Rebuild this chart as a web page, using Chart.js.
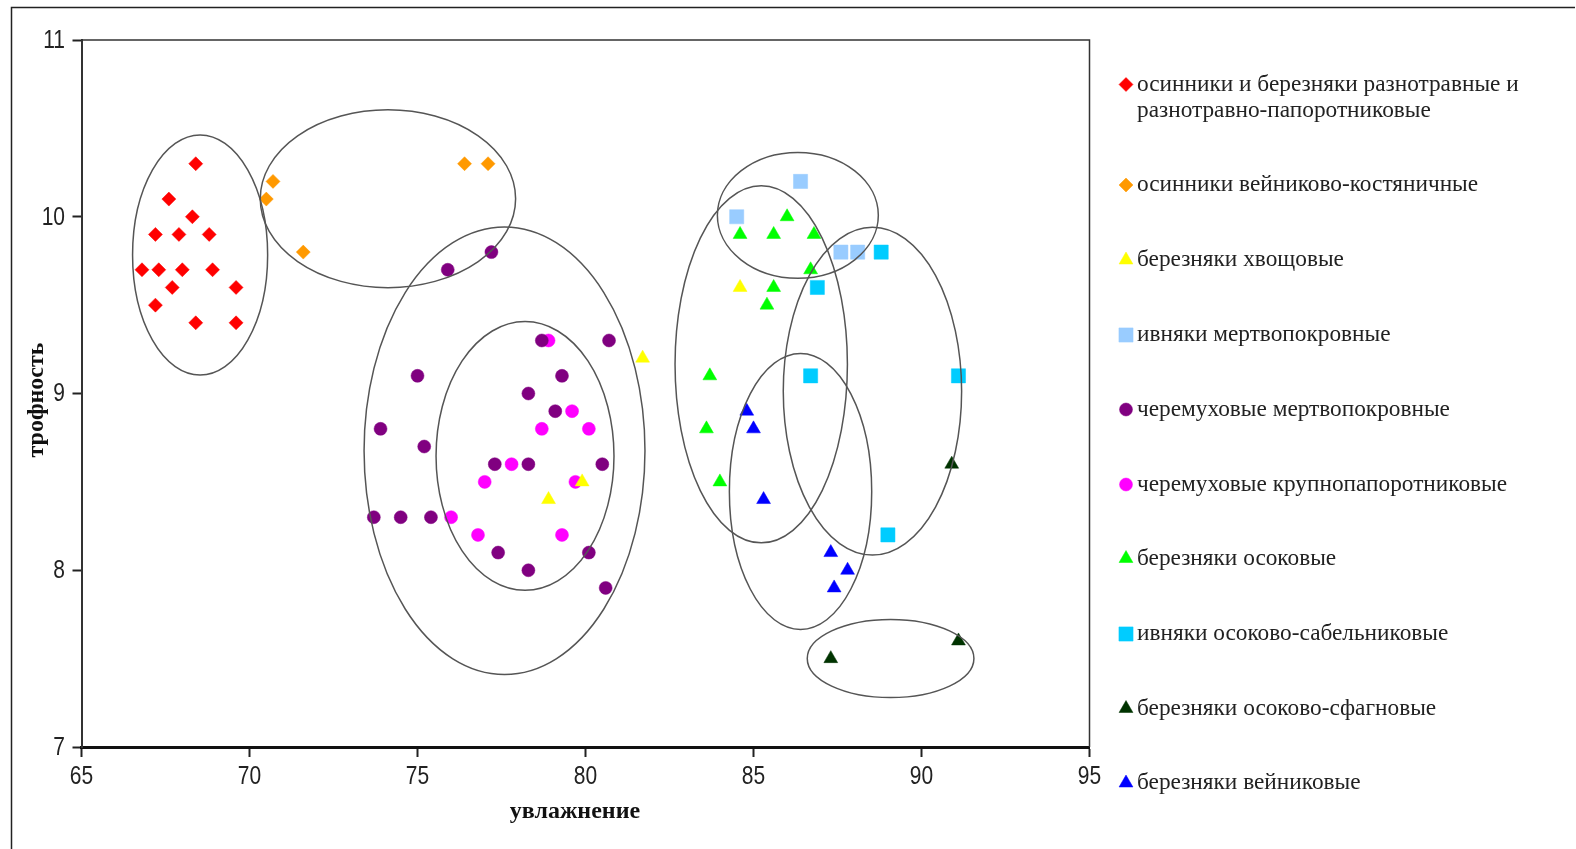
<!DOCTYPE html>
<html><head><meta charset="utf-8">
<script src="https://cdn.jsdelivr.net/npm/chart.js@4/dist/chart.umd.min.js"></script>
<style>html,body{margin:0;padding:0;background:#fff;overflow:hidden}</style>
</head><body>
<canvas id="c" width="1576" height="849" style="display:block;width:1576px;height:849px"></canvas>
<script>
// ---- data ----
const seriesNames = [
  ['осинники и березняки разнотравные и', 'разнотравно-папоротниковые'],
  ['осинники вейниково-костяничные'],
  ['березняки хвощовые'],
  ['ивняки мертвопокровные'],
  ['черемуховые мертвопокровные'],
  ['черемуховые крупнопапоротниковые'],
  ['березняки осоковые'],
  ['ивняки осоково-сабельниковые'],
  ['березняки осоково-сфагновые'],
  ['березняки вейниковые']
];
const seriesColors = ['#ff0000','#ff9900','#ffff00','#99ccff','#800080','#ff00ff','#00ff00','#00ccff','#003300','#0000ff'];
const seriesStyles = ['rectRot','rectRot','triangle','rect','circle','circle','triangle','rect','triangle','triangle'];

const s1X = [68.4,67.6,68.3,67.2,67.9,68.8,66.8,67.3,68.0,68.9,67.7,69.6,67.2,68.4,69.6];
const s1Y = [10.3,10.1,10.0,9.9,9.9,9.9,9.7,9.7,9.7,9.7,9.6,9.6,9.5,9.4,9.4];
const s2X = [70.7,70.5,71.6,76.4,77.1];
const s2Y = [10.2,10.1,9.8,10.3,10.3];
const s3X = [81.7,78.9,79.9,84.6];
const s3Y = [9.2,8.4,8.5,9.6];
const s4X = [86.4,84.5,87.6,88.1];
const s4Y = [10.2,10.0,9.8,9.8];
const s5X = [75.9,77.2,78.7,80.7,75.0,79.3,78.3,79.1,73.9,75.2,77.3,78.3,80.5,73.7,74.5,75.4,77.4,80.1,78.3,80.6];
const s5Y = [9.7,9.8,9.3,9.3,9.1,9.1,9.0,8.9,8.8,8.7,8.6,8.6,8.6,8.3,8.3,8.3,8.1,8.1,8.0,7.9];
const s6X = [78.9,79.6,78.7,80.1,77.8,77.0,79.7,76.0,76.8,79.3];
const s6Y = [9.3,8.9,8.8,8.8,8.6,8.5,8.5,8.3,8.2,8.2];
const s7X = [86.0,84.6,85.6,86.8,86.7,85.6,85.4,83.7,83.6,84.0];
const s7Y = [10.0,9.9,9.9,9.9,9.7,9.6,9.5,9.1,8.8,8.5];
const s8X = [88.8,86.9,86.7,91.1,89.0];
const s8Y = [9.8,9.6,9.1,9.1,8.2];
const s9X = [90.9,87.3,91.1];
const s9Y = [8.6,7.5,7.6];
const s10X = [84.8,85.0,85.3,87.3,87.8,87.4];
const s10Y = [8.9,8.8,8.4,8.1,8.0,7.9];

// group ellipses (data units): centre x, centre y, half-width, half-height
const ellCX = [68.53, 74.12, 77.59, 78.20, 86.32, 85.23, 88.54, 86.40, 89.08];
const ellCY = [9.784, 10.102, 8.676, 8.647, 10.008, 9.165, 9.013, 8.446, 7.501];
const ellRX = [2.01, 3.80, 4.18, 2.648, 2.395, 2.565, 2.654, 2.118, 2.48];
const ellRY = [0.679, 0.503, 1.266, 0.76, 0.356, 1.01, 0.927, 0.781, 0.221];

const xTicks = [65,70,75,80,85,90,95];
const yTicks = [7,8,9,10,11];
const xTitle = 'увлажнение';
const yTitle = 'трофность';

// ---- build ----
const allX = [s1X,s2X,s3X,s4X,s5X,s6X,s7X,s8X,s9X,s10X];
const allY = [s1Y,s2Y,s3Y,s4Y,s5Y,s6Y,s7Y,s8Y,s9Y,s10Y];
const radiusFor = {rectRot:7, triangle:8, rect:10, circle:6.5};

const datasets = allX.map((xs,i)=>({
  label: seriesNames[i].join(' '),
  data: xs.map((x,j)=>({x:x, y:allY[i][j]})),
  pointStyle: seriesStyles[i],
  pointRadius: radiusFor[seriesStyles[i]],
  pointHoverRadius: radiusFor[seriesStyles[i]],
  backgroundColor: seriesColors[i],
  borderColor: seriesColors[i],
  pointBorderWidth: 0.5,
  showLine: false
}));

const AXIS_COLOR = '#222';
const TICK_FONT_CSS = '25px "Liberation Sans", Arial, sans-serif';
const TICK_SQUEEZE = 0.84;

function drawMarker(ctx, style, x, y, color){
  const r = radiusFor[style];
  ctx.save();
  ctx.fillStyle = color; ctx.strokeStyle = color; ctx.lineWidth = 0.5;
  ctx.beginPath();
  if(style==='circle'){ ctx.arc(x,y,r,0,Math.PI*2); }
  else if(style==='rect'){ const h=r*Math.SQRT1_2; ctx.rect(x-h,y-h,2*h,2*h); }
  else if(style==='rectRot'){ ctx.moveTo(x,y-r); ctx.lineTo(x+r,y); ctx.lineTo(x,y+r); ctx.lineTo(x-r,y); ctx.closePath(); }
  else if(style==='triangle'){ const w=r*Math.sin(2*Math.PI/3); ctx.moveTo(x,y-r); ctx.lineTo(x+w,y+r/2); ctx.lineTo(x-w,y+r/2); ctx.closePath(); }
  ctx.fill(); ctx.stroke();
  ctx.restore();
}

function squeezedText(ctx, text, x, y, align){
  ctx.save();
  ctx.translate(x, y);
  ctx.scale(TICK_SQUEEZE, 1);
  ctx.textAlign = align;
  ctx.fillText(text, 0, 0);
  ctx.restore();
}

const decorPlugin = {
  id:'decor',
  beforeDraw(chart){
    const ctx = chart.ctx;
    ctx.save();
    ctx.fillStyle = '#fff'; ctx.fillRect(0,0,chart.width,chart.height);
    ctx.strokeStyle = '#222'; ctx.lineWidth = 1.5;
    ctx.beginPath();
    ctx.moveTo(11.5, 860); ctx.lineTo(11.5, 7.5); ctx.lineTo(1575, 7.5);
    ctx.stroke();
    ctx.restore();
  },
  beforeDatasetsDraw(chart){
    const ctx = chart.ctx, a = chart.chartArea;
    ctx.save();
    ctx.strokeStyle = '#333'; ctx.lineWidth = 1.5;
    ctx.beginPath();
    ctx.moveTo(a.left, a.top); ctx.lineTo(a.right, a.top); ctx.lineTo(a.right, a.bottom);
    ctx.stroke();
    ctx.restore();
  },
  afterDatasetsDraw(chart){
    const ctx = chart.ctx, xs = chart.scales.x, ys = chart.scales.y;
    ctx.save();
    ctx.strokeStyle = '#555'; ctx.lineWidth = 1.5;
    ellCX.forEach((cx,i)=>{
      const px = xs.getPixelForValue(cx), py = ys.getPixelForValue(ellCY[i]);
      const rx = Math.abs(xs.getPixelForValue(cx+ellRX[i]) - px);
      const ry = Math.abs(ys.getPixelForValue(ellCY[i]+ellRY[i]) - py);
      ctx.beginPath(); ctx.ellipse(px,py,rx,ry,0,0,Math.PI*2); ctx.stroke();
    });
    ctx.restore();
  },
  afterDraw(chart){
    const ctx = chart.ctx, xs = chart.scales.x, ys = chart.scales.y;
    // tick labels (narrow)
    ctx.save();
    ctx.font = TICK_FONT_CSS; ctx.fillStyle = '#222'; ctx.textBaseline = 'middle';
    xTicks.forEach(v=> squeezedText(ctx, String(v), xs.getPixelForValue(v), 777, 'center'));
    yTicks.forEach(v=> squeezedText(ctx, String(v), 65, ys.getPixelForValue(v) + 1, 'right'));
    ctx.restore();
    // axis titles
    ctx.save();
    ctx.fillStyle = '#111';
    ctx.font = 'bold 24px "Liberation Serif", serif';
    ctx.textAlign = 'center'; ctx.textBaseline = 'middle';
    ctx.fillText(xTitle, 575, 812);
    ctx.translate(37, 400); ctx.rotate(-Math.PI/2);
    ctx.fillText(yTitle, 0, 0);
    ctx.restore();
    // legend
    ctx.save();
    ctx.font = '23.3px "Liberation Serif", serif';
    ctx.fillStyle = '#222'; ctx.textAlign = 'left'; ctx.textBaseline = 'middle';
    const rowY = [84.5, 185, 260, 335, 409.5, 484.5, 558.5, 634, 708.5, 783];
    seriesNames.forEach((lines,i)=>{
      drawMarker(ctx, seriesStyles[i], 1126, rowY[i], seriesColors[i]);
      lines.forEach((t,k)=> ctx.fillText(t, 1137, rowY[i] + k*26.5));
    });
    ctx.restore();
  }
};

new Chart(document.getElementById('c'), {
  type:'scatter',
  data:{datasets},
  options:{
    responsive:false, animation:false, devicePixelRatio:1,
    layout:{padding:{left:11.5, top:40, right:486.5, bottom:2}},
    plugins:{legend:{display:false}, tooltip:{enabled:false}, title:{display:false}},
    scales:{
      x:{type:'linear', position:'bottom', min:65, max:95,
        afterBuildTicks: s=>{ s.ticks = xTicks.map(v=>({value:v})); },
        ticks:{display:false},
        grid:{drawOnChartArea:false, drawTicks:true, tickLength:10, tickColor:AXIS_COLOR, tickWidth:2},
        border:{display:true, color:'#111', width:3},
        afterFit: s=>{ s.height = 100; }
      },
      y:{type:'linear', position:'left', min:7, max:11,
        afterBuildTicks: s=>{ s.ticks = yTicks.map(v=>({value:v})); },
        ticks:{display:false},
        grid:{drawOnChartArea:false, drawTicks:true, tickLength:9, tickColor:AXIS_COLOR, tickWidth:2},
        border:{display:true, color:'#333', width:2},
        afterFit: s=>{ s.width = 70; }
      }
    }
  },
  plugins:[decorPlugin]
});
</script>
</body></html>
